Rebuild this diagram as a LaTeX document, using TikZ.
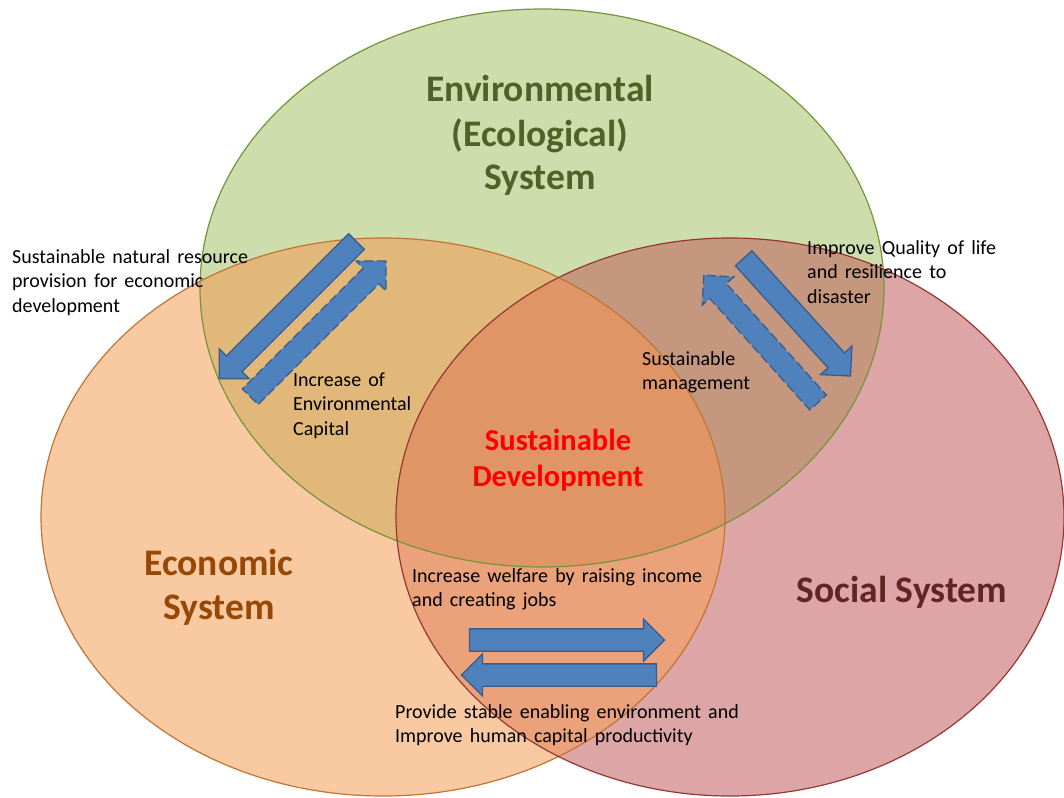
\documentclass[tikz,border=0pt]{standalone}
\usepackage{fontspec}
\setmainfont{Carlito}
\usetikzlibrary{shapes.arrows}

% region fills
\definecolor{envfill}{HTML}{CDDDAC}
\definecolor{ecofill}{HTML}{F9C9A1}
\definecolor{socfill}{HTML}{DDA5A5}
\definecolor{envecofill}{HTML}{E2B87A}
\definecolor{envsocfill}{HTML}{C4977E}
\definecolor{ecosocfill}{HTML}{EBA17A}
\definecolor{allfill}{HTML}{DF9566}
% outlines
\definecolor{envline}{HTML}{77933C}
\definecolor{ecoline}{HTML}{C07532}
\definecolor{socline}{HTML}{953735}
% label colours
\definecolor{envtext}{HTML}{4F6228}
\definecolor{ecotext}{HTML}{974706}
\definecolor{soctext}{HTML}{632523}
% arrows
\definecolor{arrowblue}{HTML}{4F81BD}
\definecolor{arrowedge}{HTML}{385D8A}

% stacked lines with the node baseline on the first line
\newcommand\leftlines[1]{\vtop{\halign{##\hfil\cr#1\crcr}}}
\newcommand\midlines[1]{\vtop{\halign{\hfil##\hfil\cr#1\crcr}}}
\newcommand\widespaces{\spaceskip=0.36em plus 0.1em\relax}

\tikzset{
  sysring/.style={line width=1.2pt},
  flowarrow/.style={single arrow, fill=arrowblue, draw=arrowedge, line width=1.3pt,
    inner xsep=0pt, inner ysep=10.5pt, single arrow head extend=10pt,
    single arrow tip angle=90},
  flowdashed/.style={flowarrow, dash pattern=on 9pt off 4pt},
  note/.style={font=\fontsize{20}{24.5}\selectfont\widespaces,
    inner sep=0pt, text=black, anchor=base west},
  syslabel/.style={font=\fontsize{37.5}{44}\selectfont\bfseries, inner sep=0pt, anchor=base},
  corelabel/.style={font=\fontsize{30.5}{36}\selectfont\bfseries, inner sep=0pt,
    anchor=base, text=red}
}

\begin{document}
\begin{tikzpicture}[x=1pt,y=-1pt]
\useasboundingbox (0,0) rectangle (1064,797);

% the three systems
\coordinate (G) at (542,288);
\coordinate (E) at (383,517);
\coordinate (S) at (730,517);
\def\envring{(G) ellipse [x radius=342pt, y radius=279pt]}
\def\ecoring{(E) ellipse [x radius=342pt, y radius=279pt]}
\def\socring{(S) ellipse [x radius=334pt, y radius=279pt]}

\fill[envfill] \envring;
\fill[ecofill] \ecoring;
\fill[socfill] \socring;
\begin{scope}
  \clip \envring;
  \fill[envecofill] \ecoring;
  \fill[envsocfill] \socring;
\end{scope}
\begin{scope}
  \clip \ecoring;
  \fill[ecosocfill] \socring;
\end{scope}
\begin{scope}
  \clip \envring;
  \clip \ecoring;
  \fill[allfill] \socring;
\end{scope}
\draw[sysring, envline] \envring;
\draw[sysring, ecoline] \ecoring;
\draw[sysring, socline] \socring;

% exchange arrows
\node[flowarrow,  minimum height=194pt, rotate=-135]  (envToEco) at (291.8,306.2) {};
\node[flowdashed, minimum height=192pt, rotate=45]    (ecoToEnv) at (314.2,332.8) {};
\node[flowarrow,  minimum height=159pt, rotate=-47.8] (envToSoc) at (793.3,313) {};
\node[flowdashed, minimum height=171pt, rotate=131.9] (socToEnv) at (764.7,343) {};
\node[flowarrow,  minimum height=195pt, rotate=0]     (ecoToSoc) at (561.5,640) {};
\node[flowarrow,  minimum height=195pt, rotate=180]   (socToEco) at (564.5,675) {};

% system labels
\node[syslabel, text=envtext] (envLabel) at (540,102)
  {\midlines{Environmental\cr(Ecological)\cr System}};
\node[syslabel, text=ecotext] (ecoLabel) at (219,575)
  {\midlines{Economic\cr System}};
\node[syslabel, text=soctext] (socLabel) at (902,602) {Social System};
\node[corelabel] (coreLabel) at (558,450)
  {\midlines{Sustainable\cr Development}};

% flow descriptions
\node[note] (resNote) at (12,263)
  {\leftlines{Sustainable natural resource\cr provision for economic\cr development}};
\node[note] (capNote) at (293,386)
  {\leftlines{Increase of\cr Environmental\cr Capital}};
\node[note] (lifeNote) at (807,254)
  {\leftlines{Improve Quality of life\cr and resilience to\cr disaster}};
\node[note] (mgmtNote) at (642,365)
  {\leftlines{Sustainable\cr management}};
\node[note] (welfareNote) at (412,582)
  {\leftlines{Increase welfare by raising income\cr and creating jobs}};
\node[note] (humanNote) at (395,718)
  {\leftlines{Provide stable enabling environment and\cr Improve human capital productivity}};
\end{tikzpicture}
\end{document}
